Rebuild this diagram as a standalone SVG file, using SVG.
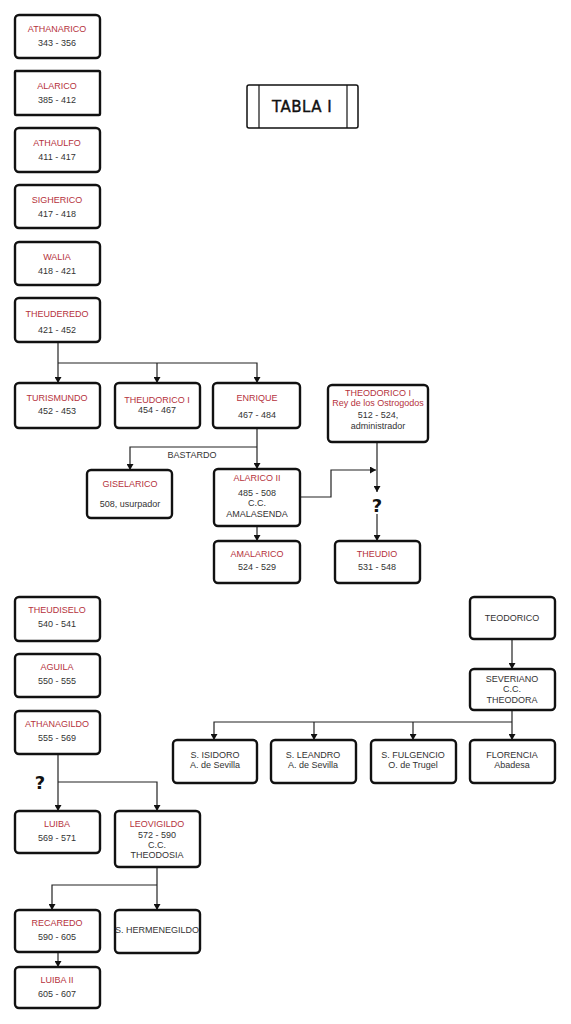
<svg xmlns="http://www.w3.org/2000/svg" width="571" height="1024" viewBox="0 0 571 1024">
<style>
.bg{fill:#fff}
.box{fill:#fff;stroke:#111;stroke-width:2.4;stroke-linejoin:round}
.n{fill:#b5323c;font-family:"Liberation Sans",Arial,sans-serif;font-size:9px;text-anchor:middle}
.d{fill:#333;font-family:"Liberation Sans",Arial,sans-serif;font-size:9px;text-anchor:middle}
.c{fill:none;stroke:#222;stroke-width:1.2}
.q{fill:#111;font-family:"DejaVu Sans",sans-serif;font-size:18px;font-weight:bold;text-anchor:middle}
.t{fill:#111;font-family:"DejaVu Sans",sans-serif;font-size:15px;font-weight:500;text-anchor:middle;letter-spacing:0.5px;stroke:#111;stroke-width:0.4}
</style>
<defs>
<marker id="ar" markerWidth="6" markerHeight="7" refX="6" refY="3.5" orient="auto" markerUnits="userSpaceOnUse">
<path d="M0,0 L6,3.5 L0,7 Z" fill="#111"/>
</marker>
</defs>
<rect class="bg" x="0" y="0" width="571" height="1024"/>

<g id="title">
<rect class="box" x="247" y="85" width="111" height="43" rx="2" style="stroke-width:1.5"/>
<line x1="259" y1="85" x2="259" y2="128" stroke="#111" stroke-width="1.2"/>
<line x1="347" y1="85" x2="347" y2="128" stroke="#111" stroke-width="1.2"/>
<text class="t" x="302" y="112">TABLA I</text>
</g>

<g id="connectors">
<path class="c" d="M58,342 V383" marker-end="url(#ar)"/>
<path class="c" d="M58,363 H257 V383" marker-end="url(#ar)"/>
<path class="c" d="M157,363 V383" marker-end="url(#ar)"/>
<path class="c" d="M257,428 V469" marker-end="url(#ar)"/>
<path class="c" d="M257,447 H130 V470" marker-end="url(#ar)"/>
<path class="c" d="M257,526 V541" marker-end="url(#ar)"/>
<path class="c" d="M300,497 H331 V470 H376" marker-end="url(#ar)"/>
<path class="c" d="M377,442 V492" marker-end="url(#ar)"/>
<path class="c" d="M377,514 V541" marker-end="url(#ar)"/>
<path class="c" d="M58,754 V811" marker-end="url(#ar)"/>
<path class="c" d="M58,782 H157 V811" marker-end="url(#ar)"/>
<path class="c" d="M157,867 V910" marker-end="url(#ar)"/>
<path class="c" d="M157,885 H52 V910" marker-end="url(#ar)"/>
<path class="c" d="M58,952 V967" marker-end="url(#ar)"/>
<path class="c" d="M512,639 V669" marker-end="url(#ar)"/>
<path class="c" d="M512,710 V740" marker-end="url(#ar)"/>
<path class="c" d="M512,722 H214 V740" marker-end="url(#ar)"/>
<path class="c" d="M314,722 V740" marker-end="url(#ar)"/>
<path class="c" d="M413,722 V740" marker-end="url(#ar)"/>
<text class="d" x="192" y="458">BASTARDO</text>
<text class="q" x="377" y="512">?</text>
<text class="q" x="40" y="789">?</text>
</g>

<g id="athanarico"><rect class="box" x="15" y="15" width="85" height="43" rx="4"/><text class="n" x="57" y="32">ATHANARICO</text><text class="d" x="57" y="46">343 - 356</text></g>
<g id="alarico"><rect class="box" x="15" y="71" width="85" height="44" rx="1"/><text class="n" x="57" y="89">ALARICO</text><text class="d" x="57" y="103">385 - 412</text></g>
<g id="athaulfo"><rect class="box" x="15" y="128" width="85" height="44" rx="4"/><text class="n" x="57" y="146">ATHAULFO</text><text class="d" x="57" y="160">411 - 417</text></g>
<g id="sigherico"><rect class="box" x="15" y="185" width="85" height="43" rx="4"/><text class="n" x="57" y="203">SIGHERICO</text><text class="d" x="57" y="217">417 - 418</text></g>
<g id="walia"><rect class="box" x="15" y="242" width="85" height="43" rx="4"/><text class="n" x="57" y="260">WALIA</text><text class="d" x="57" y="274">418 - 421</text></g>
<g id="theuderedo"><rect class="box" x="15" y="298" width="85" height="44" rx="4"/><text class="n" x="57" y="317">THEUDEREDO</text><text class="d" x="57" y="333">421 - 452</text></g>

<g id="turismundo"><rect class="box" x="15" y="383" width="85" height="45" rx="4"/><text class="n" x="57" y="401">TURISMUNDO</text><text class="d" x="57" y="414">452 - 453</text></g>
<g id="theudorico1"><rect class="box" x="115" y="383" width="85" height="45" rx="4"/><text class="n" x="157" y="403">THEUDORICO I</text><text class="d" x="157" y="413">454 - 467</text></g>
<g id="enrique"><rect class="box" x="213" y="383" width="87" height="45" rx="4"/><text class="n" x="257" y="401">ENRIQUE</text><text class="d" x="257" y="418">467 - 484</text></g>
<g id="theodorico1"><rect class="box" x="328" y="385" width="100" height="57" rx="4"/><text class="n" x="378" y="396">THEODORICO I</text><text class="n" x="378" y="406">Rey de los Ostrogodos</text><text class="d" x="378" y="418">512 - 524,</text><text class="d" x="378" y="429">administrador</text></g>

<g id="giselarico"><rect class="box" x="87" y="470" width="85" height="48" rx="4"/><text class="n" x="130" y="487">GISELARICO</text><text class="d" x="130" y="507">508, usurpador</text></g>
<g id="alarico2"><rect class="box" x="214" y="469" width="86" height="57" rx="4"/><text class="n" x="257" y="481">ALARICO II</text><text class="d" x="257" y="496">485 - 508</text><text class="d" x="257" y="506">C.C.</text><text class="d" x="257" y="517">AMALASENDA</text></g>
<g id="amalarico"><rect class="box" x="214" y="541" width="86" height="42" rx="4"/><text class="n" x="257" y="557">AMALARICO</text><text class="d" x="257" y="570">524 - 529</text></g>
<g id="theudio"><rect class="box" x="335" y="541" width="85" height="42" rx="4"/><text class="n" x="377" y="557">THEUDIO</text><text class="d" x="377" y="570">531 - 548</text></g>

<g id="theudiselo"><rect class="box" x="15" y="597" width="85" height="44" rx="4"/><text class="n" x="57" y="613">THEUDISELO</text><text class="d" x="57" y="627">540 - 541</text></g>
<g id="aguila"><rect class="box" x="15" y="654" width="85" height="43" rx="4"/><text class="n" x="57" y="670">AGUILA</text><text class="d" x="57" y="684">550 - 555</text></g>
<g id="athanagildo"><rect class="box" x="15" y="711" width="85" height="43" rx="4"/><text class="n" x="57" y="727">ATHANAGILDO</text><text class="d" x="57" y="741">555 - 569</text></g>

<g id="luiba"><rect class="box" x="15" y="811" width="85" height="42" rx="4"/><text class="n" x="57" y="827">LUIBA</text><text class="d" x="57" y="841">569 - 571</text></g>
<g id="leovigildo"><rect class="box" x="115" y="811" width="85" height="56" rx="4"/><text class="n" x="157" y="827">LEOVIGILDO</text><text class="d" x="157" y="838">572 - 590</text><text class="d" x="157" y="848">C.C.</text><text class="d" x="157" y="858">THEODOSIA</text></g>
<g id="recaredo"><rect class="box" x="15" y="910" width="85" height="42" rx="4"/><text class="n" x="57" y="926">RECAREDO</text><text class="d" x="57" y="940">590 - 605</text></g>
<g id="hermenegildo"><rect class="box" x="115" y="910" width="85" height="43" rx="4"/><text class="d" x="157" y="933">S. HERMENEGILDO</text></g>
<g id="luiba2"><rect class="box" x="15" y="967" width="85" height="41" rx="4"/><text class="n" x="57" y="983">LUIBA II</text><text class="d" x="57" y="997">605 - 607</text></g>

<g id="teodorico"><rect class="box" x="470" y="597" width="85" height="42" rx="4"/><text class="d" x="512" y="621">TEODORICO</text></g>
<g id="severiano"><rect class="box" x="470" y="669" width="85" height="41" rx="4"/><text class="d" x="512" y="682">SEVERIANO</text><text class="d" x="512" y="692">C.C.</text><text class="d" x="512" y="703">THEODORA</text></g>
<g id="isidoro"><rect class="box" x="173" y="740" width="84" height="43" rx="4"/><text class="d" x="215" y="758">S. ISIDORO</text><text class="d" x="215" y="768">A. de Sevilla</text></g>
<g id="leandro"><rect class="box" x="271" y="740" width="85" height="43" rx="4"/><text class="d" x="313" y="758">S. LEANDRO</text><text class="d" x="313" y="768">A. de Sevilla</text></g>
<g id="fulgencio"><rect class="box" x="371" y="740" width="85" height="43" rx="4"/><text class="d" x="413" y="758">S. FULGENCIO</text><text class="d" x="413" y="768">O. de Trugel</text></g>
<g id="florencia"><rect class="box" x="470" y="740" width="85" height="43" rx="4"/><text class="d" x="512" y="758">FLORENCIA</text><text class="d" x="512" y="768">Abadesa</text></g>
</svg>
